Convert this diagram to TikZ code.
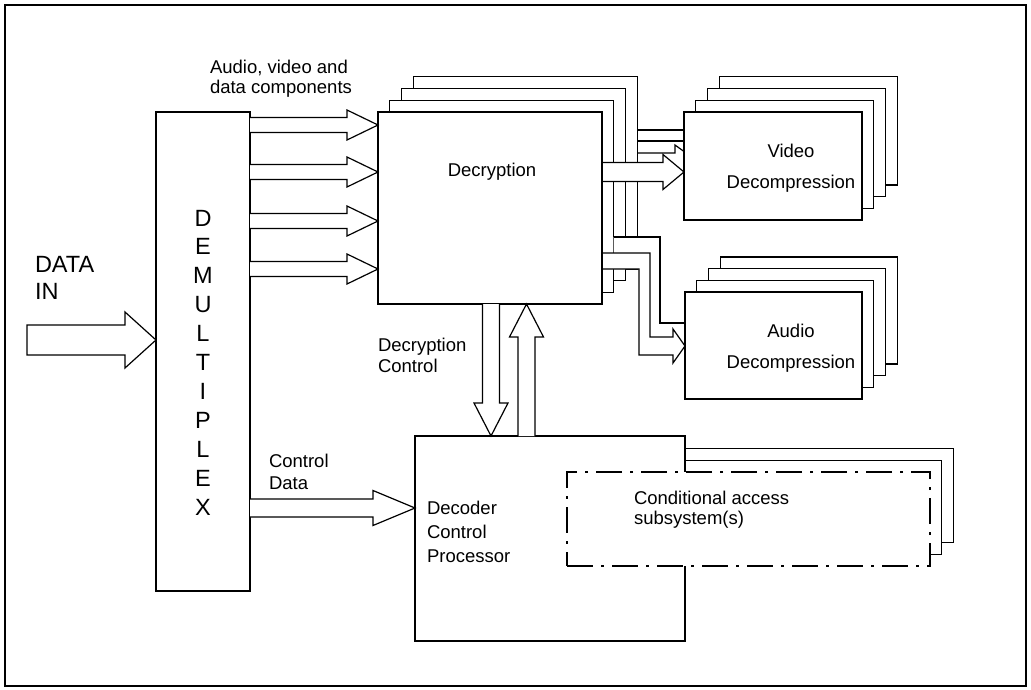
\documentclass[tikz,border=0pt]{standalone}
\usepackage{fontspec}
\setmainfont{Liberation Sans}
\usetikzlibrary{calc}
\pgfdeclarelayer{back}
\pgfdeclarelayer{mid}
\pgfsetlayers{back,mid,main}

% hollow arrow pointing right: options, start, tip, half shaft, half head, head length, closing
\newcommand{\hollowright}[7]{%
  \path[#1] let \p1=(#2), \p2=(#3) in
    ({\x1},{\y2+#4}) -- ({\x2-#6},{\y2+#4}) -- ({\x2-#6},{\y2+#5}) -- (\p2)
    -- ({\x2-#6},{\y2-#5}) -- ({\x2-#6},{\y2-#4}) -- ({\x1},{\y2-#4}) #7;}
% hollow vertical arrow: options, start, tip, half shaft, half head, signed head length
\newcommand{\hollowvert}[6]{%
  \path[#1] let \p1=(#2), \p2=(#3) in
    ({\x2-#4},{\y1}) -- ({\x2-#4},{\y2+(#6)}) -- ({\x2-#5},{\y2+(#6)}) -- (\p2)
    -- ({\x2+#5},{\y2+(#6)}) -- ({\x2+#4},{\y2+(#6)}) -- ({\x2+#4},{\y1});}

\begin{document}
\begin{tikzpicture}[x=1pt,y=-1pt,
  box/.style={draw, fill=white, line width=1.2pt, inner sep=0pt, outer sep=0pt, anchor=north west},
  cabox/.style={box, dash pattern=on 26pt off 8pt on 3pt off 8pt},
  hollow/.style={draw, fill=white, line width=1.2pt, line join=miter},
  wire/.style={line width=1.2pt},
  lbl/.style={inner sep=0pt, outer sep=0pt, align=left, anchor=west, font=\fontsize{18.5}{#1}\selectfont},
  lbl/.default=22]
\useasboundingbox (0,0) rectangle (1031,690);
\draw[line width=2pt] (5,5) rectangle (1026,686);

% front units
\node[box, minimum width=94pt, minimum height=479pt] (dmx) at (156,112) {};
\node[box, minimum width=224pt, minimum height=192pt] (dec0) at (378,112) {};
\node[box, minimum width=178pt, minimum height=108pt] (vid0) at (684,112) {};
\node[box, minimum width=177pt, minimum height=107pt] (aud0) at (685,292) {};
\node[box, minimum width=270pt, minimum height=205pt] (dcp) at (415,436) {};
\node[cabox, minimum width=363pt, minimum height=94pt] (ca0) at (567,472) {};

% stacked rear units
\begin{pgfonlayer}{back}
\foreach \k in {3,2,1} {
  \node[box, minimum width=224pt, minimum height=192pt] (dec\k) at ({378+11.7*\k},{112-11.7*\k}) {};
  \node[box, minimum width=178pt, minimum height=108pt] (vid\k) at ({684+11.7*\k},{112-11.7*\k}) {};
  \node[box, minimum width=177pt, minimum height=107pt] (aud\k) at ({685+11.7*\k},{292-11.7*\k}) {};
}
\foreach \k in {2,1}
  \node[box, minimum width=363pt, minimum height=94pt] (ca\k) at ({567+11.7*\k},{472-11.7*\k}) {};
\end{pgfonlayer}

% channels from decryption to decompression
\begin{pgfonlayer}{mid}
\draw[wire] (dec3.east |- 0,130) -- (vid0.west |- 0,130);
\draw[wire] (dec3.east |- 0,141) -- (vid0.west |- 0,141);
\draw[wire, line join=miter] (dec3.east |- 0,153) -- (675,153) -- (675,145) -- (vid0.west |- 0,151.5);
\fill[white] (dec1.east |- 0,237) -| (660,323) -- (690,323) |- (650,345) |- (dec1.east |- 0,253) -- cycle;
\draw[wire] (dec1.east |- 0,237) -| (660,323) -- (aud0.west |- 0,323);
\path[hollow] (dec0.east |- 0,253) -| (650,337) -- (673,337) -- (673,329) -- (aud0.west |- 0,346)
  -- (673,363) -- (673,355) -| (639,269) -- (dec0.east |- 0,269);
\hollowright{hollow}{dec0.east |- 0,172}{vid0.west |- 0,172}{9.5pt}{17.5pt}{21pt}{}
\end{pgfonlayer}

% data input
\coordinate (din) at (27,340);
\hollowright{hollow}{din}{dmx.west |- din}{15pt}{28pt}{31pt}{-- cycle}

% demultiplexed components
\foreach \yy [count=\i] in {125,172,221,269} {
  \coordinate (dt\i) at (dec0.west |- 0,\yy);
  \hollowright{hollow}{dmx.east |- dt\i}{dt\i}{7.5pt}{15pt}{31pt}{}
}

% control data
\hollowright{hollow}{dmx.east |- 0,508}{dcp.west |- 0,508}{9pt}{17.5pt}{42pt}{}

% decryption control
\hollowvert{hollow}{dec0.south -| 491,0}{dcp.north -| 491,0}{8.5pt}{17pt}{33pt}
\hollowvert{hollow}{dcp.north -| 526.5,0}{dec0.south -| 526.5,0}{8.5pt}{17pt}{-33pt}

% labels
\node[inner sep=0pt, align=center, font=\fontsize{23.5}{28.9}\selectfont] (dmxlbl) at (203,362.5) {D\\E\\M\\U\\L\\T\\I\\P\\L\\E\\X};
\node[lbl=27, font=\fontsize{23.5}{27}\selectfont] (dinlbl) at (35,278.1) {DATA\\IN};
\node[inner sep=0pt, font=\fontsize{18.5}{22}\selectfont] (declbl) at (492,172) {Decryption};
\node[lbl=31, align=center, anchor=center] (vidlbl) at (791,168.7) {Video\\Decompression};
\node[lbl=31, align=center, anchor=center] (audlbl) at (791,348.7) {Audio\\Decompression};
\node[lbl=20] (toplbl) at (210,79.2) {Audio, video and\\data components};
\node[lbl=21] (dclbl) at (378,354.9) {Decryption\\Control};
\node[lbl=22] (cdlbl) at (269,472.3) {Control\\Data};
\node[lbl=24] (dcplbl) at (427,532) {Decoder\\Control\\Processor};
\node[lbl=20] (calbl) at (634,509.7) {Conditional access\\subsystem(s)};
\end{tikzpicture}
\end{document}
